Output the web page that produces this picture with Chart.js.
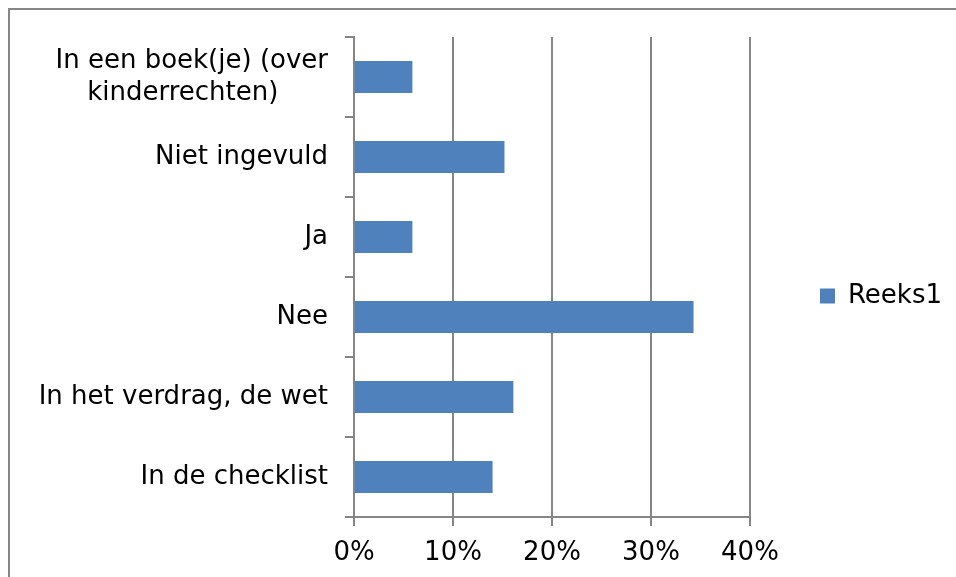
<!DOCTYPE html>
<html>
<head>
<meta charset="utf-8">
<script src="https://cdn.jsdelivr.net/npm/chart.js@4/dist/chart.umd.min.js"></script>
<style>
  html, body { margin: 0; padding: 0; background: #ffffff; }
  body { width: 956px; height: 577px; overflow: hidden; position: relative; }
  #frame { position: absolute; left: 8px; top: 8px; width: 948px; height: 569px;
           border-left: 2px solid #868686; border-top: 2px solid #868686; box-sizing: border-box; }
  #wrap { position: absolute; left: 10px; top: 10px; width: 946px; height: 567px; }
</style>
</head>
<body>
<div id="frame"></div>
<div id="wrap"><canvas id="c"></canvas></div>
<script>
const categories = [
  ["In een boek(je) (over", "kinderrechten)\u00a0\u00a0\u00a0\u00a0\u00a0\u00a0"],
  "Niet ingevuld",
  "Ja",
  "Nee",
  "In het verdrag, de wet",
  "In de checklist"
];
const seriesName = "Reeks1";
const values = [0.059, 0.152, 0.059, 0.343, 0.161, 0.140];
const xTicks = [0, 0.1, 0.2, 0.3, 0.4];

const GRID = '#868686';
const FONT = { family: 'DejaVu Sans, Verdana, sans-serif', size: 26, lineHeight: 1.24 };

const legendShift = {
  id: 'legendShift',
  afterLayout(chart) {
    const l = chart.legend;
    if (l) { l.bottom -= 22; l.height -= 22; }
  }
};

new Chart(document.getElementById('c'), {
  type: 'bar',
  data: {
    labels: categories,
    datasets: [{
      label: seriesName,
      data: values,
      backgroundColor: '#4F81BD',
      borderWidth: 0,
      categoryPercentage: 0.8,
      barPercentage: 0.5
    }]
  },
  plugins: [legendShift],
  options: {
    indexAxis: 'y',
    responsive: true,
    maintainAspectRatio: false,
    animation: false,
    layout: { padding: { top: 27, right: 4, left: 0, bottom: 0 } },
    plugins: {
      legend: {
        position: 'right',
        labels: {
          font: FONT,
          color: '#000000',
          boxWidth: 15,
          boxHeight: 15,
          padding: 70
        }
      },
      tooltip: { enabled: false }
    },
    scales: {
      x: {
        type: 'linear',
        min: 0,
        max: 0.4,
        afterBuildTicks: (axis) => { axis.ticks = xTicks.map(v => ({ value: v })); },
        afterFit: (axis) => { axis.height = 60; },
        ticks: {
          font: FONT,
          color: '#000000',
          padding: 11,
          callback: (v) => Math.round(v * 100) + '%'
        },
        grid: {
          color: GRID,
          lineWidth: 2,
          tickLength: 9,
          drawOnChartArea: true,
          drawTicks: true
        },
        border: { color: GRID, width: 2 }
      },
      y: {
        type: 'category',
        afterFit: (axis) => { axis.width = 344; axis.paddingTop = 0; axis.paddingBottom = 0; },
        ticks: {
          font: FONT,
          color: '#000000',
          padding: 17,
          autoSkip: false
        },
        grid: {
          color: GRID,
          lineWidth: 2,
          tickLength: 9,
          offset: true,
          drawOnChartArea: false,
          drawTicks: true
        },
        border: { color: GRID, width: 2 }
      }
    }
  }
});
</script>
</body>
</html>
